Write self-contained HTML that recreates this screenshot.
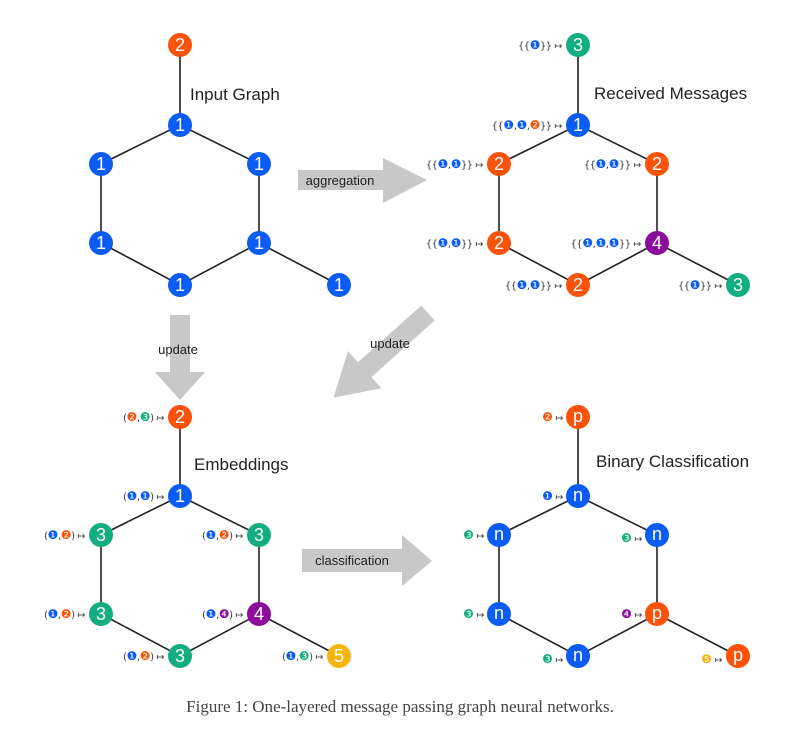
<!DOCTYPE html>
<html><head><meta charset="utf-8"><style>
body{margin:0;background:#fff;}
svg{display:block;font-family:"Liberation Sans","DejaVu Sans",sans-serif;}
.e{stroke:#222;stroke-width:1.6;fill:none}
.n{font-size:18px;fill:#fff;text-anchor:middle}
.l{font-size:9.5px;fill:#333;text-anchor:end;font-family:"DejaVu Sans",sans-serif;letter-spacing:-0.3px}
.l tspan{font-size:12px}
.t{font-size:17px;fill:#222}
.a{font-size:13px;fill:#222;text-anchor:middle}
.b{fill:#0b5cf5}.o{fill:#fd5209}.g{fill:#13ae7f}.p{fill:#8c0d9c}.y{fill:#f6b40c}
</style></head><body>
<svg width="799" height="730" viewBox="0 0 799 730">
<g fill="#c8c8c8">
<polygon points="298,170 383,170 383,158 427,180 383,203 383,190 298,190"/>
<polygon points="170,315 190,315 190,372 205,372 180,400 155,372 170,372"/>
<polygon points="421.3,305.5 434.7,320.5 371.4,377.1 381.4,388.3 333.4,397.7 348,351.1 358,362.2"/>
<polygon points="302,549 402,549 402,535 432,561 402,586 402,572 302,572"/>
</g>
<text class="a" x="340" y="185">aggregation</text>
<text class="a" x="178" y="354">update</text>
<text class="a" x="390" y="348">update</text>
<text class="a" x="352" y="565">classification</text>

<g class="e">
<path d="M180,45V125L101,164V243L180,285L259,243V164L180,125M259,243L339,285"/>
<path d="M578,45V125L499,164V243L578,285L657,243V164L578,125M657,243L738,285"/>
<path d="M180,417V496L101,535V614L180,656L259,614V535L180,496M259,614L339,656"/>
<path d="M578,417V496L499,535V614L578,656L657,614V535L578,496M657,614L738,656"/>
</g>

<g>
<circle class="o" cx="180" cy="45" r="12"/><text class="n" x="180" y="51">2</text>
<circle class="b" cx="180" cy="125" r="12"/><text class="n" x="180" y="131">1</text>
<circle class="b" cx="101" cy="164" r="12"/><text class="n" x="101" y="170">1</text>
<circle class="b" cx="259" cy="164" r="12"/><text class="n" x="259" y="170">1</text>
<circle class="b" cx="101" cy="243" r="12"/><text class="n" x="101" y="249">1</text>
<circle class="b" cx="259" cy="243" r="12"/><text class="n" x="259" y="249">1</text>
<circle class="b" cx="180" cy="285" r="12"/><text class="n" x="180" y="291">1</text>
<circle class="b" cx="339" cy="285" r="12"/><text class="n" x="339" y="291">1</text>
</g>
<text class="t" x="190" y="100">Input Graph</text>

<g>
<circle class="g" cx="578" cy="45" r="12"/><text class="n" x="578" y="51">3</text>
<circle class="b" cx="578" cy="125" r="12"/><text class="n" x="578" y="131">1</text>
<circle class="o" cx="499" cy="164" r="12"/><text class="n" x="499" y="170">2</text>
<circle class="o" cx="657" cy="164" r="12"/><text class="n" x="657" y="170">2</text>
<circle class="o" cx="499" cy="243" r="12"/><text class="n" x="499" y="249">2</text>
<circle class="p" cx="657" cy="243" r="12"/><text class="n" x="657" y="249">4</text>
<circle class="o" cx="578" cy="285" r="12"/><text class="n" x="578" y="291">2</text>
<circle class="g" cx="738" cy="285" r="12"/><text class="n" x="738" y="291">3</text>
</g>
<text class="t" x="594" y="99">Received Messages</text>
<text class="l" x="562" y="49">{{<tspan class="b">❶</tspan>}} ↦</text>
<text class="l" x="562" y="129">{{<tspan class="b">❶</tspan>,<tspan class="b">❶</tspan>,<tspan class="o">❷</tspan>}} ↦</text>
<text class="l" x="483" y="168">{{<tspan class="b">❶</tspan>,<tspan class="b">❶</tspan>}} ↦</text>
<text class="l" x="641" y="168">{{<tspan class="b">❶</tspan>,<tspan class="b">❶</tspan>}} ↦</text>
<text class="l" x="483" y="247">{{<tspan class="b">❶</tspan>,<tspan class="b">❶</tspan>}} ↦</text>
<text class="l" x="641" y="247">{{<tspan class="b">❶</tspan>,<tspan class="b">❶</tspan>,<tspan class="b">❶</tspan>}} ↦</text>
<text class="l" x="562" y="289">{{<tspan class="b">❶</tspan>,<tspan class="b">❶</tspan>}} ↦</text>
<text class="l" x="722" y="289">{{<tspan class="b">❶</tspan>}} ↦</text>

<g>
<circle class="o" cx="180" cy="417" r="12"/><text class="n" x="180" y="423">2</text>
<circle class="b" cx="180" cy="496" r="12"/><text class="n" x="180" y="502">1</text>
<circle class="g" cx="101" cy="535" r="12"/><text class="n" x="101" y="541">3</text>
<circle class="g" cx="259" cy="535" r="12"/><text class="n" x="259" y="541">3</text>
<circle class="g" cx="101" cy="614" r="12"/><text class="n" x="101" y="620">3</text>
<circle class="p" cx="259" cy="614" r="12"/><text class="n" x="259" y="620">4</text>
<circle class="g" cx="180" cy="656" r="12"/><text class="n" x="180" y="662">3</text>
<circle class="y" cx="339" cy="656" r="12"/><text class="n" x="339" y="662">5</text>
</g>
<text class="t" x="194" y="470">Embeddings</text>
<text class="l" x="164" y="421">(<tspan class="o">❷</tspan>,<tspan class="g">❸</tspan>) ↦</text>
<text class="l" x="164" y="500">(<tspan class="b">❶</tspan>,<tspan class="b">❶</tspan>) ↦</text>
<text class="l" x="85" y="539">(<tspan class="b">❶</tspan>,<tspan class="o">❷</tspan>) ↦</text>
<text class="l" x="243" y="539">(<tspan class="b">❶</tspan>,<tspan class="o">❷</tspan>) ↦</text>
<text class="l" x="85" y="618">(<tspan class="b">❶</tspan>,<tspan class="o">❷</tspan>) ↦</text>
<text class="l" x="243" y="618">(<tspan class="b">❶</tspan>,<tspan class="p">❹</tspan>) ↦</text>
<text class="l" x="164" y="660">(<tspan class="b">❶</tspan>,<tspan class="o">❷</tspan>) ↦</text>
<text class="l" x="323" y="660">(<tspan class="b">❶</tspan>,<tspan class="g">❸</tspan>) ↦</text>

<g>
<circle class="o" cx="578" cy="417" r="12"/><text class="n" x="578" y="422">p</text>
<circle class="b" cx="578" cy="496" r="12"/><text class="n" x="578" y="501">n</text>
<circle class="b" cx="499" cy="535" r="12"/><text class="n" x="499" y="540">n</text>
<circle class="b" cx="657" cy="535" r="12"/><text class="n" x="657" y="540">n</text>
<circle class="b" cx="499" cy="614" r="12"/><text class="n" x="499" y="619">n</text>
<circle class="o" cx="657" cy="614" r="12"/><text class="n" x="657" y="619">p</text>
<circle class="b" cx="578" cy="656" r="12"/><text class="n" x="578" y="661">n</text>
<circle class="o" cx="738" cy="656" r="12"/><text class="n" x="738" y="661">p</text>
</g>
<text class="t" x="596" y="467">Binary Classification</text>
<text class="l" x="563" y="421"><tspan class="o">❷</tspan> ↦</text>
<text class="l" x="563" y="500"><tspan class="b">❶</tspan> ↦</text>
<text class="l" x="484" y="539"><tspan class="g">❸</tspan> ↦</text>
<text class="l" x="642" y="542"><tspan class="g">❸</tspan> ↦</text>
<text class="l" x="484" y="618"><tspan class="g">❸</tspan> ↦</text>
<text class="l" x="642" y="618"><tspan class="p">❹</tspan> ↦</text>
<text class="l" x="563" y="663"><tspan class="g">❸</tspan> ↦</text>
<text class="l" x="722" y="663"><tspan class="y">❺</tspan> ↦</text>

<text x="400" y="712" text-anchor="middle" style="font-family:'Liberation Serif',serif;font-size:17px;fill:#444">Figure 1: One-layered message passing graph neural networks.</text>
</svg>
</body></html>
